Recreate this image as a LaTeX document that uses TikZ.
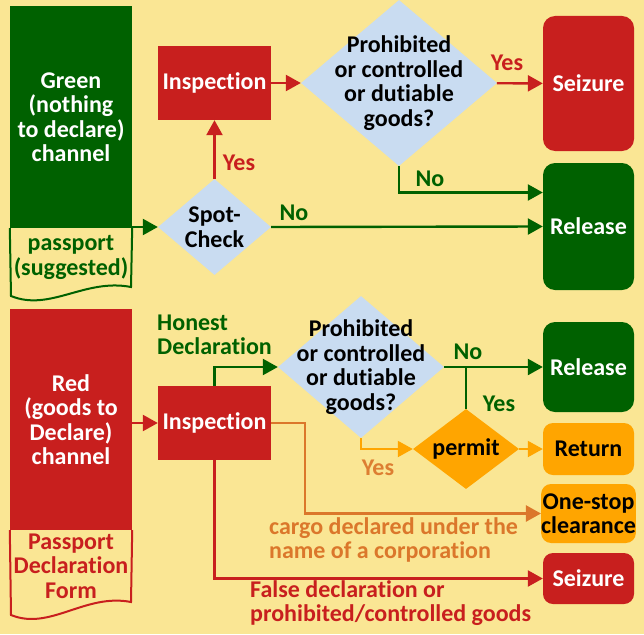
\documentclass[tikz,border=0pt]{standalone}
\usepackage{fontspec}
\setmainfont{Carlito}[Ligatures={NoCommon,NoRare}]
\usetikzlibrary{shapes.geometric,arrows.meta,calc}
\definecolor{bg}{HTML}{FAE694}
\definecolor{cgreen}{HTML}{006100}
\definecolor{cred}{HTML}{C81F1E}
\definecolor{cblue}{HTML}{C9DCF1}
\definecolor{corange}{HTML}{FFA500}
\definecolor{cdorange}{HTML}{DB772B}
\definecolor{clorange}{HTML}{DD7E32}
\tikzset{
  boxs/.style={rectangle, inner sep=0pt, align=center, text=white},
  rbox/.style={boxs, rounded corners=12pt},
  dia/.style={diamond, inner sep=0pt, fill=cblue},
  tx/.style={inner sep=0pt, align=center},
  txl/.style={inner sep=0pt, align=left, anchor=west},
  conn/.style={line width=2.4pt, -{Triangle[length=15pt,width=16pt]}},
  plain/.style={line width=2.4pt},
  docb/.style={line width=2pt},
}
\begin{document}
\begin{tikzpicture}[x=1pt,y=-1pt,font=\bfseries\fontsize{24}{24.5}\selectfont]
\fill[bg] (0,0) rectangle (644,634);
\useasboundingbox (0,0) rectangle (644,634);

% ---------- top: green channel ----------
\node[boxs, fill=cgreen, minimum width=122pt, minimum height=222pt] (gch) at (71,117) {Green\\(nothing\\to declare)\\channel};
\draw[cgreen, docb] (gch.south west) -- (11,296) .. controls (50,312) and (85,278) .. (131,287) -- (gch.south east);
\node[tx, text=cgreen] (gpass) at (71,257.5) {passport\\(suggested)};

\node[boxs, fill=cred, minimum width=113pt, minimum height=74pt] (insp1) at (214.5,83) {Inspection};
\node[dia, minimum width=196pt, minimum height=166pt, label={[tx]center:Prohibited\\or controlled\\or dutiable\\goods?}] (d1) at (399,83) {};
\node[rbox, fill=cred, minimum width=91pt, minimum height=135pt] (sz1) at (588.5,83.5) {Seizure};
\node[rbox, fill=cgreen, minimum width=91pt, minimum height=127pt] (rel1) at (588.5,226.5) {Release};
\node[dia, minimum width=113pt, minimum height=96pt, label={[tx]center:Spot-\\Check}] (sc) at (214.5,227) {};

\draw[conn, cred] (insp1) -- (d1);
\draw[conn, cred] (d1) -- (sz1);
\node[tx, text=cred] (l1) at (507,63) {Yes};
\draw[conn, cgreen] (d1.south) |- ([yshift=34pt]rel1.west);
\node[tx, text=cgreen] (l2) at (430,179) {No};
\draw[conn, cgreen] (gch.east |- sc.west) -- (sc.west);
\draw[conn, cred] (sc.north) -- (insp1.south);
\node[tx, text=cred] (l3) at (239,163) {Yes};
\draw[conn, cgreen] (sc.east) -- (rel1.west);
\node[tx, text=cgreen] (l4) at (294,213) {No};

% ---------- bottom: red channel ----------
\node[boxs, fill=cred, minimum width=122pt, minimum height=221pt] (rch) at (71,419.5) {Red\\(goods to\\Declare)\\channel};
\draw[cred, docb] (rch.south west) -- (11,615) .. controls (50,631) and (85,593) .. (131,602) -- (rch.south east);
\node[tx, text=cred] (rpass) at (71,566) {Passport\\Declaration\\Form};

\node[boxs, fill=cred, minimum width=113pt, minimum height=74pt] (insp2) at (214.5,423) {Inspection};
\node[dia, minimum width=166pt, minimum height=142pt, label={[tx]center:Prohibited\\or controlled\\or dutiable\\goods?}] (d2) at (361,367) {};
\node[rbox, fill=cgreen, minimum width=91pt, minimum height=90pt] (rel2) at (588.5,367) {Release};
\node[diamond, inner sep=0pt, fill=corange, minimum width=106pt, minimum height=80pt, label={[tx]center:permit}] (pm) at (466,449) {};
\node[rbox, fill=corange, text=black, rounded corners=10pt, minimum width=91pt, minimum height=52pt] (ret) at (588.5,449) {Return};
\node[rbox, fill=corange, text=black, rounded corners=10pt, minimum width=91pt, minimum height=59pt] (one) at (588.5,513.5) {One-stop\\clearance};
\node[rbox, fill=cred, rounded corners=10pt, minimum width=91pt, minimum height=51pt] (sz2) at (588.5,578.5) {Seizure};

\draw[conn, cred] (rch.east |- insp2.west) -- (insp2.west);
\draw[conn, cgreen] (insp2.north) |- (d2.west);
\node[txl, text=cgreen] (hon) at (157,335) {Honest\\Declaration};
\draw[conn, cgreen] (d2.east) -- (rel2.west);
\node[tx, text=cgreen] (l5) at (468,352) {No};
\coordinate (pj) at (pm.north |- d2.east);
\draw[plain, cgreen] (pm.north) -- (pj);
\node[tx, text=cgreen] (l6) at (499,404) {Yes};
\draw[conn, corange, line width=2pt] (d2.south) |- (pm.west);
\node[tx, text=clorange] (l7) at (378,468) {Yes};
\draw[conn, corange, line width=2pt] (pm.east) -- (ret.west);

\coordinate (cb) at (305,423);
\draw[conn, cdorange] (insp2.east) -- (cb) |- (one.west);
\node[txl, text=cdorange] (cg) at (269,540) {cargo declared under the\\name of a corporation};
\draw[conn, cred] (insp2.south) |- (sz2.west);
\node[txl, text=cred] (fd) at (250,603) {False declaration or\\prohibited/controlled goods};
\end{tikzpicture}
\end{document}
